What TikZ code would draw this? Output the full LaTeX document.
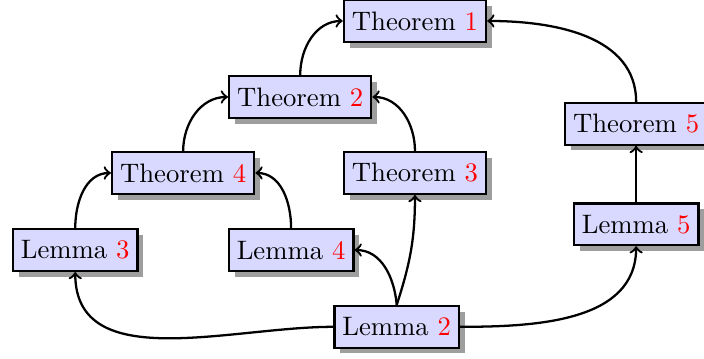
\documentclass[tikz,border=0pt]{standalone}
\usetikzlibrary{shadows}
\tikzset{
  res/.style={draw, line width=0.3mm, fill=blue!15, inner sep=3pt,
    minimum height=15.6pt, drop shadow={fill=black!38, opacity=1}},
  dep/.style={->, line width=0.3mm}
}
\newcommand{\num}[1]{\textcolor{red}{#1}}
\begin{document}
\begin{tikzpicture}
\useasboundingbox (0,0) rectangle (9.263,-4.711);

%теоремы
\node[res] (t1) at (5.46,-0.276) {Theorem \num{1}};
\node[res] (t2) at (3.95,-1.276) {Theorem \num{2}};
\node[res] (t4) at (2.41,-2.276) {Theorem \num{4}};
\node[res] (t3) at (5.46,-2.276) {Theorem \num{3}};
\node[res] (t5) at (8.37,-1.63) {Theorem \num{5}};

%леммы
\node[res] (l3) at (0.99,-3.29) {Lemma \num{3}};
\node[res] (l4) at (3.83,-3.29) {Lemma \num{4}};
\node[res] (l5) at (8.37,-2.95) {Lemma \num{5}};
\node[res] (l2) at (5.22,-4.30) {Lemma \num{2}};

%связи
\draw[dep] (t2.north) to[out=90,in=180] (t1.west);
\draw[dep] (t5.north) to[out=90,in=0] (t1.east);
\draw[dep] (t4.north) to[out=90,in=180] (t2.west);
\draw[dep] (t3.north) to[out=90,in=0] (t2.east);
\draw[dep] (l3.north) to[out=90,in=180] (t4.west);
\draw[dep] (l4.north) to[out=90,in=0] (t4.east);
\draw[dep] (l5) -- (t5);

\draw[dep] (l2.north) to[out=95,in=0] (l4.east);
\draw[dep] (l2.north) to[out=72,in=-90] (t3.south);
\draw[dep] (l2.west) to[out=180,in=-90] (l3.south);
\draw[dep] (l2.east) to[out=0,in=-90] (l5.south);

\end{tikzpicture}
\end{document}
